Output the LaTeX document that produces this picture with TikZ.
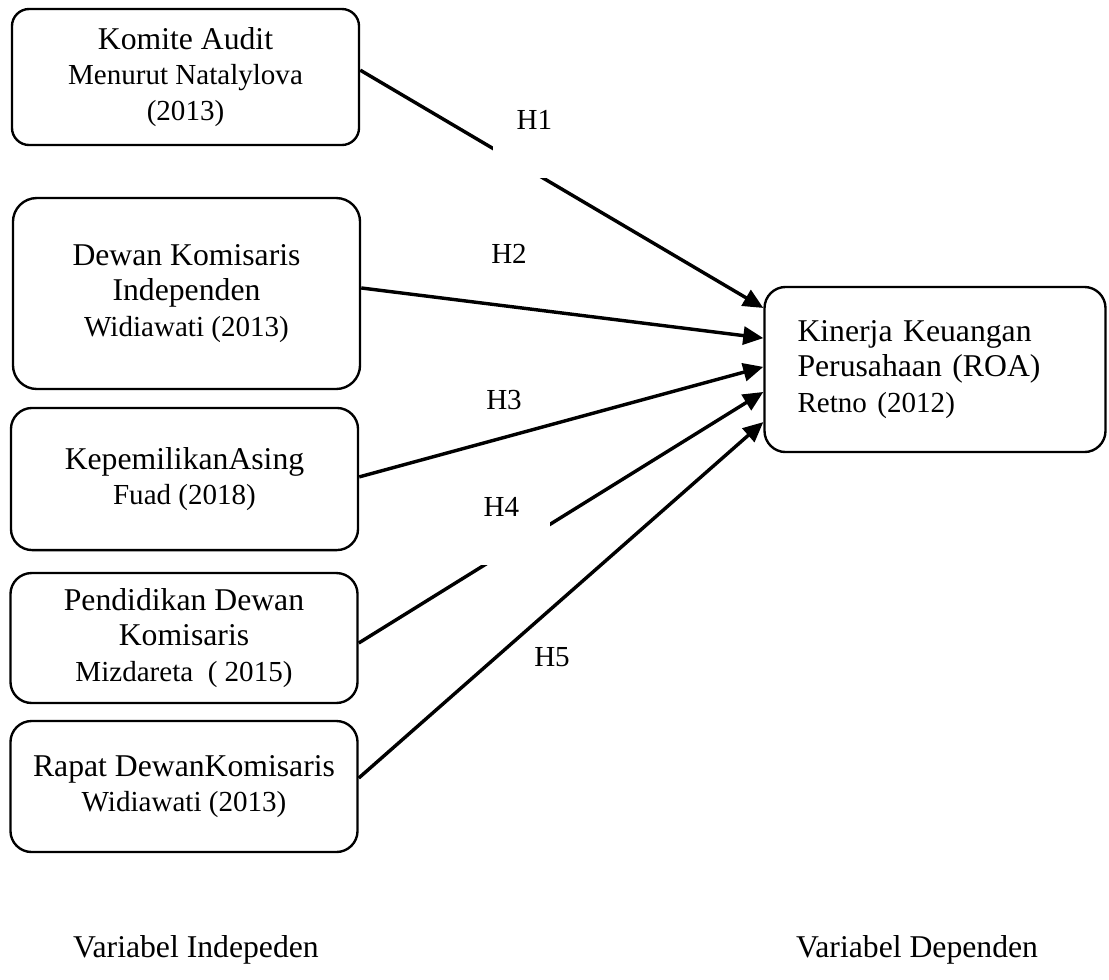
\documentclass[tikz,border=0pt]{standalone}
\usepackage{fontspec}
\setmainfont{Liberation Serif}
\usetikzlibrary{arrows.meta}
\newcommand{\srcfont}{\fontsize{11pt}{13.3pt}\selectfont}

\begin{document}
\begin{tikzpicture}[x=0.3786pt,y=-0.3786pt]
\tikzstyle{var}=[rectangle, rounded corners=8pt, draw=black, line width=0.9pt, align=center, minimum width=131.4pt, inner sep=0pt, font=\fontsize{12pt}{13.3pt}\selectfont]
\tikzstyle{connect}=[-{Triangle[length=7.6pt,width=6.8pt]}, line width=1.3pt]
\tikzstyle{hyp}=[inner sep=0pt, font=\srcfont]
\tikzstyle{hypgap}=[hyp, fill=white, align=left, text width=15.9pt, inner xsep=9.1pt, inner ysep=3pt, text height=7.6pt, text depth=15.5pt, anchor=south west]
\tikzstyle{caption}=[inner sep=0pt, font=\fontsize{12pt}{14pt}\selectfont]
	\useasboundingbox (0,0) rectangle (1109,979);
	% independent variables
	\node[var, minimum height=51.5pt, rounded corners=6.5pt] (komite) at (185.5,77) {Komite Audit\\ \srcfont Menurut Natalylova\\ \srcfont (2013)};
	\node[var, minimum height=72.3pt, rounded corners=9pt] (dewan) at (186.5,293.5) {Dewan Komisaris\\ Independen\\ \srcfont Widiawati (2013)};
	\node[var, minimum height=53.8pt] (asing) at (184.5,479) {KepemilikanAsing\\ \srcfont Fuad (2018)};
	\node[var, minimum height=49.2pt] (didik) at (184,638) {Pendidikan Dewan\\ Komisaris\\ \srcfont Mizdareta\ \ ( 2015)};
	\node[var, minimum height=49.6pt] (rapat) at (184,786.5) {Rapat DewanKomisaris\\ \srcfont Widiawati (2013)};
	% dependent variable
	\node[var, minimum width=129.1pt, minimum height=62.5pt, align=left, text width=104.1pt] (roa) at (935,369.5) {Kinerja Keuangan\\ Perusahaan (ROA)\\ \srcfont Retno (2012)};
	\path ([yshift=2.6pt]komite.east) edge [connect] ([yshift=23.3pt]roa.west);
	\path ([yshift=2.1pt]dewan.east) edge [connect] ([yshift=11.9pt]roa.west);
	\path ([yshift=0.8pt]asing.east) edge [connect] ([yshift=1pt]roa.west);
	\path ([yshift=-1.9pt]didik.east) edge [connect] ([yshift=-8.5pt]roa.west);
	\path ([yshift=3.2pt]rapat.east) edge [connect] ([yshift=-19.9pt]roa.west);
	% hypotheses
	\node[hypgap] (h1) at (492,179) {H1};
	\node[hyp] (h2) at (509,254) {H2};
	\node[hyp] (h3) at (504,400) {H3};
	\node[hypgap] (h4) at (459,566) {H4};
	\node[hyp] (h5) at (552,657) {H5};
	\node[caption] (indep) at (196,950) {Variabel Indepeden};
	\node[caption] (dep) at (917,950) {Variabel Dependen};
\end{tikzpicture}
\end{document}
